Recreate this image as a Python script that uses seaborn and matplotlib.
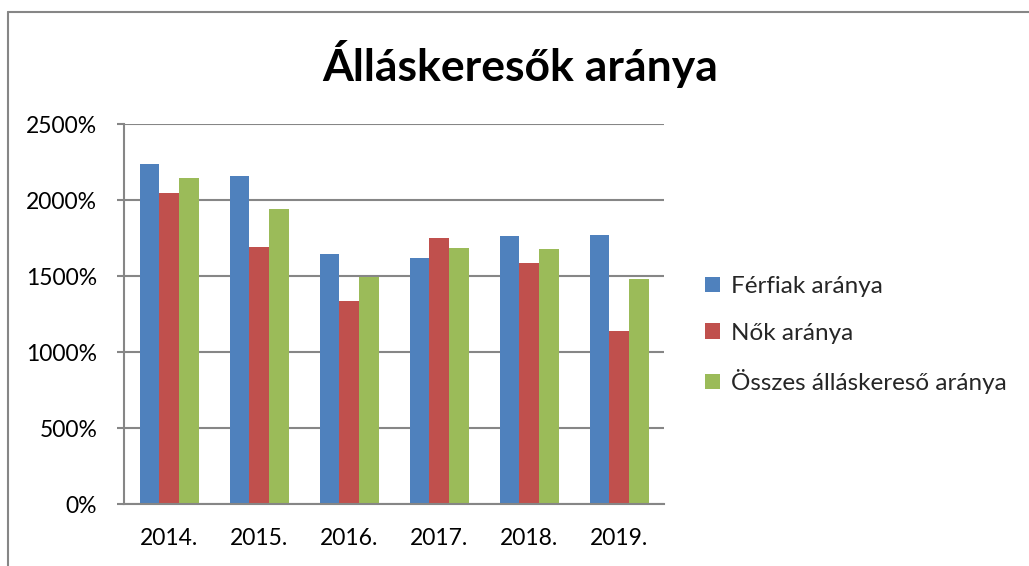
import matplotlib
matplotlib.use("Agg")
import matplotlib.pyplot as plt
import seaborn as sns
import pandas as pd
from matplotlib.ticker import FuncFormatter, MultipleLocator
from matplotlib.lines import Line2D

years = ["2014.", "2015.", "2016.", "2017.", "2018.", "2019."]
ferfiak = [2240, 2160, 1645, 1620, 1765, 1775]
nok = [2045, 1690, 1335, 1755, 1590, 1140]
osszes = [2147, 1940, 1497, 1685, 1682, 1482]
series = ["Férfiak aránya", "Nők aránya", "Összes álláskereső aránya"]
colors = ["#4F81BD", "#C0504D", "#9BBB59"]
title = "Álláskeresők aránya"

df = pd.DataFrame({
    "year": years * 3,
    "value": ferfiak + nok + osszes,
    "series": [s for s in series for _ in years],
})

sns.set_theme(style="white")
plt.rcParams["font.family"] = ["Lato", "DejaVu Sans"]

fig = plt.figure(figsize=(10.29, 5.66), dpi=100)
ax = fig.add_axes([124.3 / 1029, 1 - 504.3 / 566, 540 / 1029, 380 / 566])
sns.barplot(data=df, x="year", y="value", hue="series", palette=colors,
            width=0.66, saturation=1, ax=ax, edgecolor="none", linewidth=0)

grid_c = "#868686"
ax.set_ylim(0, 2500)
ax.set_xlim(-0.5, 5.5)
ax.yaxis.set_major_locator(MultipleLocator(500))
ax.yaxis.set_major_formatter(FuncFormatter(lambda v, p: f"{v:.0f}%"))
ax.yaxis.grid(True, color=grid_c, linewidth=1.5)
ax.set_axisbelow(True)
ax.set_xlabel("")
ax.set_ylabel("")
for s in ["top", "right"]:
    ax.spines[s].set_visible(False)
for s in ["left", "bottom"]:
    ax.spines[s].set_color(grid_c)
    ax.spines[s].set_linewidth(1.5)
ax.tick_params(axis="y", which="major", left=True, length=5, width=1.5, color=grid_c,
               labelsize=16.5, pad=14.5, labelcolor="black")
ax.tick_params(axis="x", bottom=False, labelsize=16.5, pad=11, labelcolor="black")

handles, labels = ax.get_legend_handles_labels()
ax.legend(handles, labels, loc="center left", bbox_to_anchor=(705 / 1029, 1 - 335 / 566),
          bbox_transform=fig.transFigure, frameon=False, fontsize=17.5,
          handlelength=0.6, handleheight=0.6, handletextpad=0.45, labelspacing=1.05,
          borderaxespad=0, borderpad=0)

fig.text(520 / 1029, 1 - 64 / 566, title, ha="center", va="center",
         fontsize=32, fontweight="bold", color="black")

fig.add_artist(Line2D([8 / 1029, 1], [1 - 12 / 566, 1 - 12 / 566], transform=fig.transFigure,
                      color=grid_c, linewidth=1.5))
fig.add_artist(Line2D([8 / 1029, 8 / 1029], [0, 1 - 12 / 566], transform=fig.transFigure,
                      color=grid_c, linewidth=1.5))

fig.savefig("out.png", dpi=100, facecolor="white")
